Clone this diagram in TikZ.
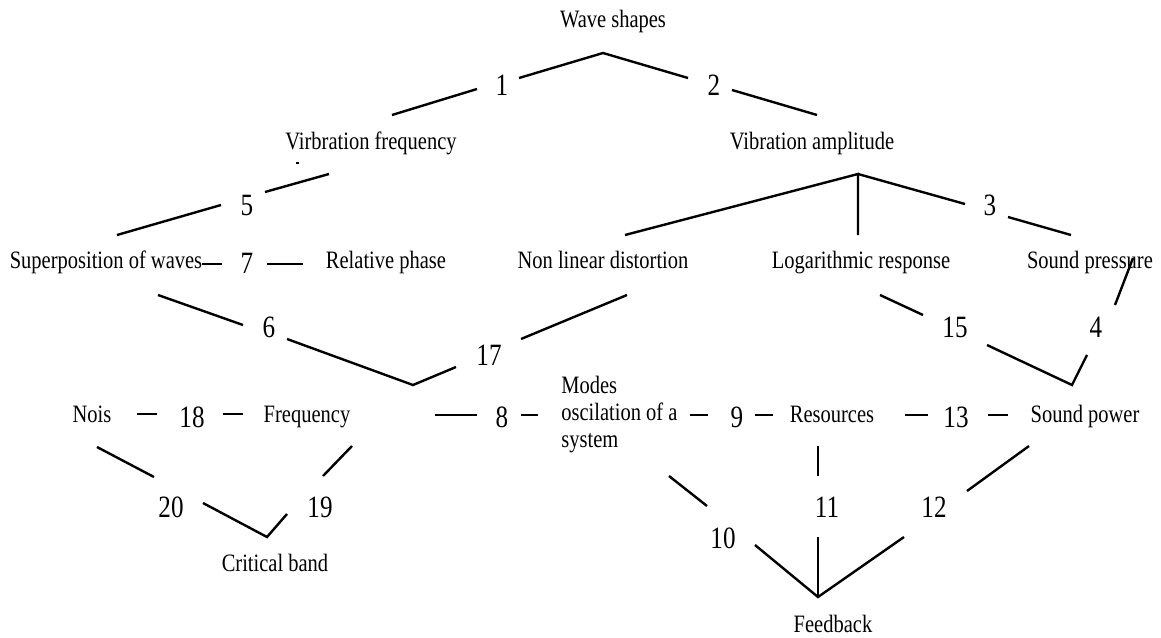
\documentclass[tikz,border=0pt]{standalone}
\usepackage{fontspec}
\setmainfont{Liberation Serif}[FakeStretch=0.82]
\newfontfamily\numfont{Liberation Serif}[FakeStretch=0.81]
\begin{document}
\begin{tikzpicture}[x=0.5pt,y=-0.5pt,
  lbl/.style={inner sep=0pt,anchor=base,font=\fontsize{12.5}{13.5}\selectfont},
  num/.style={inner sep=0pt,anchor=base,font=\numfont\fontsize{15.5}{18}\selectfont},
  link/.style={line width=1.2pt,line cap=butt,line join=miter}]
\useasboundingbox (0,0) rectangle (1161,637);

% concept labels
\node[lbl] (wave)  at (613,27)  {Wave shapes};
\node[lbl] (vfreq) at (371,149) {Virbration frequency};
\node[lbl] (vamp)  at (812,149) {Vibration amplitude};
\node[lbl] (super) at (106,268) {Superposition of waves};
\node[lbl] (phase) at (386,268) {Relative phase};
\node[lbl] (nonlin) at (603,268) {Non linear distortion};
\node[lbl] (logr)  at (861,268) {Logarithmic response};
\node[lbl] (spress) at (1090,268) {Sound pressure};
\node[lbl] (nois)  at (92,422)  {Nois};
\node[lbl] (freq)  at (307,422) {Frequency};
\node[inner sep=0pt,anchor=north west,align=left,
      font=\fontsize{12.5}{13.5}\selectfont] (modes) at (561,376)
      {Modes\\oscilation of a\\system};
\node[lbl] (res)   at (832,422) {Resources};
\node[lbl] (spow)  at (1085,422) {Sound power};
\node[lbl] (crit)  at (275,571) {Critical band};
\node[lbl] (fb)    at (833,632) {Feedback};

% numbered links
\node[num] (n1)  at (502,95)  {1};
\node[num] (n2)  at (714,95)  {2};
\node[num] (n3)  at (990,215) {3};
\node[num] (n4)  at (1096,337) {4};
\node[num] (n5)  at (247,215) {5};
\node[num] (n6)  at (269,337) {6};
\node[num] (n7)  at (247,273) {7};
\node[num] (n8)  at (502,427) {8};
\node[num] (n9)  at (737,427) {9};
\node[num] (n10) at (723,548) {10};
\node[num] (n11) at (827,517) {11};
\node[num] (n12) at (934,517) {12};
\node[num] (n13) at (956,427) {13};
\node[num] (n15) at (955,337) {15};
\node[num] (n17) at (489,365) {17};
\node[num] (n18) at (192,427) {18};
\node[num] (n19) at (320,517) {19};
\node[num] (n20) at (171,517) {20};

% junction points
\coordinate (jtop)  at (603,53);
\coordinate (jamp)  at (858,174);
\coordinate (j617)  at (413,385);
\coordinate (j154)  at (1072,385);
\coordinate (jcrit) at (267,537);
\coordinate (jfb)   at (818,597);

% upper tree
\draw[link] (392,115) -- (477,89);
\draw[link] (519,78) -- (jtop) -- (688,78);
\draw[link] (732,90) -- (817,115);
\draw[link] (329,174) -- (265,192);
\draw[link] (296,163) -- (299,163);
\draw[link] (221,205) -- (117,235);
\draw[link] (625,235) -- (jamp) -- (858,235);
\draw[link] (jamp) -- (965,204);
\draw[link] (1008,217) -- (1071,235);

% superposition row
\draw[link] (202,264) -- (222,264);
\draw[link] (267,264) -- (303,264);

% middle crossings
\draw[link] (158,295) -- (243,325);
\draw[link] (287,339) -- (j617) -- (456,367);
\draw[link] (521,339) -- (627,295);
\draw[link] (880,295) -- (923,315);
\draw[link] (1133,258) -- (1115,305);
\draw[link] (987,345) -- (j154) -- (1087,355);

% lower row dashes
\draw[link] (137,414) -- (157,414);
\draw[link] (223,414) -- (243,414);
\draw[link] (435,415) -- (477,415);
\draw[link] (521,415) -- (538,415);
\draw[link] (690,415) -- (708,415);
\draw[link] (755,415) -- (773,415);
\draw[link] (905,415) -- (928,415);
\draw[link] (988,415) -- (1008,415);

% critical band branch
\draw[link] (97,447) -- (154,477);
\draw[link] (352,446) -- (323,476);
\draw[link] (203,503) -- (jcrit) -- (287,514);

% feedback branch
\draw[link] (669,476) -- (707,506);
\draw[link] (818,446) -- (818,476);
\draw[link] (1029,446) -- (967,491);
\draw[link] (755,545) -- (jfb) -- (904,537);
\draw[link] (818,537) -- (jfb);
\end{tikzpicture}
\end{document}
